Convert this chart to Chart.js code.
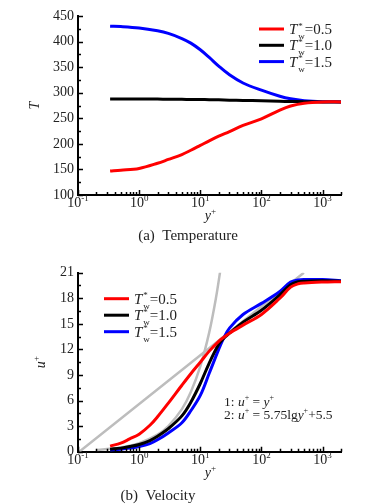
<!DOCTYPE html>
<html>
<head>
<meta charset="utf-8">
<script src="https://cdn.jsdelivr.net/npm/chart.js@4.4.0/dist/chart.umd.min.js"></script>
<style>
    html, body { margin: 0; padding: 0; background: #fff; }
    canvas { display: block; }
</style>
</head>
<body>
<canvas id="temp-chart" width="370" height="250"></canvas>
<canvas id="vel-chart" width="370" height="254"></canvas>
<script>
const SERIF = '"Liberation Serif", "Times New Roman", serif';

// (a) temperature profiles, T vs y+
const yPlusT   = [0.335, 0.5, 1, 2, 3, 5, 7, 10, 14, 20, 30, 50, 100, 200, 300, 500, 1000, 2000];
const tempLow  = [147, 148.5, 152, 162, 169.5, 179, 187.5, 197, 206, 215, 224, 236, 249, 266, 274, 279.5, 282, 282];
const tempMid  = [287.5, 287.5, 287.5, 287.5, 287.3, 287, 286.8, 286.7, 286.4, 286, 285.5, 285, 284.3, 283.3, 282.8, 282.4, 282, 282];
const tempHigh = [430, 429.3, 426.5, 421, 416, 406, 397, 384, 369, 352, 335, 319, 305, 293, 288, 284.5, 282.5, 282];

// (b) velocity profiles, u+ vs y+
const yPlusU  = [0.335, 0.5, 0.7, 1, 1.5, 2, 3, 5, 7, 10, 14, 20, 24, 30, 50, 100, 200, 300, 400, 500, 1000, 2000];
const velLow  = [0.66, 1.0, 1.5, 2.05, 3.1, 4.1, 5.7, 7.8, 9.15, 10.5, 11.8, 12.95, 13.4, 13.9, 14.85, 16.1, 18.0, 19.3, 19.7, 19.8, 19.9, 19.95];
const velMid  = [0.3, 0.42, 0.6, 0.85, 1.3, 1.8, 2.7, 4.2, 5.8, 8.0, 10.4, 12.6, 13.3, 13.9, 15.2, 16.6, 18.4, 19.6, 19.95, 20.0, 20.05, 20.0];
const velHigh = [0.2, 0.3, 0.42, 0.6, 0.95, 1.4, 2.2, 3.4, 4.8, 6.6, 9.2, 12.0, 13.3, 14.5, 16.1, 17.4, 18.8, 19.9, 20.15, 20.2, 20.2, 20.05];

// reference laws (grey): 1: u+ = y+, 2: log law
const viscYPlus = [0.2, 0.5, 1, 2, 3, 5, 7, 10, 14, 18, 21.5];
const viscU     = [0.2, 0.5, 1, 2, 3, 5, 7, 10, 14, 18, 21.5];
const logYPlus  = [0.105, 494];
const logU      = [0, 21];

const wallRatios = ['0.5', '1.0', '1.5'];
const lineColors = ['#ff0000', '#000000', '#0000ff'];
const greyColor = '#bdbdbd';

const xTickValues = [0.1, 1, 10, 100, 1000];
const xTickExps = ['-1', '0', '1', '2', '3'];
const tTicks = [100, 150, 200, 250, 300, 350, 400, 450];
const uTicks = [0, 3, 6, 9, 12, 15, 18, 21];

function toXY(xs, ys) {
    return xs.map((x, i) => ({ x: x, y: ys[i] }));
}

// rich text: parts are [text, kind]
function partFont(kind, size) {
    const small = Math.round(size * 0.62);
    if (kind === 'i') return `italic ${size}px ${SERIF}`;
    if (kind === 'sup' || kind === 'sub' || kind === 'stack') return `${small}px ${SERIF}`;
    return `${size}px ${SERIF}`;
}

function partWidth(ctx, p, size) {
    ctx.font = partFont(p[1], size);
    if (p[1] === 'stack') return Math.max(ctx.measureText(p[0][0]).width, ctx.measureText(p[0][1]).width) + 1;
    return ctx.measureText(p[0]).width;
}

function drawRich(ctx, x, y, parts, size, align) {
    ctx.save();
    ctx.textAlign = 'left';
    ctx.textBaseline = 'alphabetic';
    let total = 0;
    parts.forEach(p => { total += partWidth(ctx, p, size); });
    let cx = align === 'center' ? x - total / 2 : x;
    parts.forEach(p => {
        const w = partWidth(ctx, p, size);
        ctx.font = partFont(p[1], size);
        if (p[1] === 'sup') {
            ctx.fillText(p[0], cx, y - size * 0.42);
        } else if (p[1] === 'sub') {
            ctx.fillText(p[0], cx, y + size * 0.3);
        } else if (p[1] === 'stack') {
            ctx.fillText(p[0][0], cx + 1, y + size * 0.34);
            ctx.fillText(p[0][1], cx + 1, y - size * 0.36);
        } else {
            ctx.fillText(p[0], cx, y);
        }
        cx += w;
    });
    ctx.restore();
}

function legendParts(ratio) {
    return [['T', 'i'], [['w', '*'], 'stack'], ['=' + ratio, 'r']];
}

// inward tick marks, x labels, titles, legend, caption
function makeDecor(cfg) {
    return {
        id: 'decor',
        afterDraw(chart) {
            const ctx = chart.ctx;
            const xs = chart.scales.x;
            const ys = chart.scales.y;
            const area = chart.chartArea;
            ctx.save();
            ctx.strokeStyle = '#000';
            ctx.lineWidth = 1.5;
            ctx.beginPath();
            for (let e = -1; e <= 3; e++) {
                for (let m = 1; m <= 9; m++) {
                    const v = m * Math.pow(10, e);
                    if (v > xs.max) continue;
                    const px = Math.round(xs.getPixelForValue(v)) + 0.5;
                    const len = m === 1 ? 5 : 3;
                    ctx.moveTo(px, area.bottom);
                    ctx.lineTo(px, area.bottom - len);
                }
            }
            for (let v = cfg.yMin; v <= cfg.yMax + 1e-9; v += cfg.yMinor) {
                const py = Math.round(ys.getPixelForValue(v)) + 0.5;
                const major = Math.abs((v - cfg.yMin) / cfg.yMajor - Math.round((v - cfg.yMin) / cfg.yMajor)) < 1e-6;
                ctx.moveTo(area.left, py);
                ctx.lineTo(area.left + (major ? 5 : 3), py);
            }
            ctx.stroke();

            ctx.fillStyle = '#222';
            xTickValues.forEach((v, i) => {
                const px = xs.getPixelForValue(v);
                drawRich(ctx, px, area.bottom + 12, [['10', 'r'], [xTickExps[i], 'sup']], 14, 'center');
            });

            // axis titles
            drawRich(ctx, (area.left + area.right) / 2 + 1, area.bottom + 25, [['y', 'i'], ['+', 'sup']], 14, 'center');
            ctx.save();
            ctx.translate(cfg.yTitleX, (area.top + area.bottom) / 2);
            ctx.rotate(-Math.PI / 2);
            drawRich(ctx, 0, 0, cfg.yTitle, 14, 'center');
            ctx.restore();

            // legend from datasets
            ctx.lineWidth = 3;
            for (let i = 0; i < 3; i++) {
                const ds = chart.data.datasets[i];
                const ly = cfg.legendY + i * cfg.legendGap;
                ctx.strokeStyle = ds.borderColor;
                ctx.beginPath();
                ctx.moveTo(cfg.legendX, ly);
                ctx.lineTo(cfg.legendX + 25, ly);
                ctx.stroke();
                ctx.fillStyle = '#222';
                drawRich(ctx, cfg.legendX + 30, ly + 5, legendParts(wallRatios[i]), 15, 'left');
            }

            (cfg.notes || []).forEach(n => drawRich(ctx, n.x, n.y, n.parts, 13.5, 'left'));

            ctx.font = `15px ${SERIF}`;
            ctx.textAlign = 'center';
            ctx.fillStyle = '#222';
            ctx.fillText(cfg.caption, cfg.captionX, cfg.captionY);
            ctx.restore();
        }
    };
}

function makeScales(yMin, yMax, yTicks, xHeight) {
    const border = { display: true, color: '#000', width: 2 };
    return {
        x: {
            type: 'logarithmic',
            min: 0.1,
            max: 2000,
            border: border,
            grid: { display: false, drawTicks: false },
            ticks: { display: false },
            afterBuildTicks: s => { s.ticks = xTickValues.map(v => ({ value: v })); },
            afterFit: s => { s.height = xHeight; }
        },
        y: {
            type: 'linear',
            min: yMin,
            max: yMax,
            border: border,
            grid: { display: false, drawTicks: false },
            ticks: { color: '#222', padding: 4, font: { family: SERIF, size: 14 } },
            afterBuildTicks: s => { s.ticks = yTicks.map(v => ({ value: v })); },
            afterFit: s => { s.width = 78; }
        }
    };
}

function lineSet(label, data, color, width) {
    return {
        label: label,
        data: data,
        borderColor: color,
        borderWidth: width,
        pointRadius: 0,
        fill: false,
        tension: 0.35
    };
}

const baseOptions = {
    responsive: false,
    animation: false,
    plugins: { legend: { display: false }, tooltip: { enabled: false } }
};

new Chart(document.getElementById('temp-chart'), {
    type: 'line',
    data: {
        datasets: [
            lineSet('0.5', toXY(yPlusT, tempLow), lineColors[0], 3),
            lineSet('1.0', toXY(yPlusT, tempMid), lineColors[1], 3),
            lineSet('1.5', toXY(yPlusT, tempHigh), lineColors[2], 3)
        ]
    },
    options: Object.assign({}, baseOptions, {
        layout: { padding: { top: 16, right: 29, left: 0, bottom: 0 } },
        scales: makeScales(100, 450, tTicks, 55)
    }),
    plugins: [makeDecor({
        yMin: 100, yMax: 450, yMajor: 50, yMinor: 25,
        yTitle: [['T', 'i']], yTitleX: 39,
        legendX: 259, legendY: 29, legendGap: 16.3,
        caption: '(a)  Temperature', captionX: 188, captionY: 240
    })]
});

new Chart(document.getElementById('vel-chart'), {
    type: 'line',
    data: {
        datasets: [
            lineSet('0.5', toXY(yPlusU, velLow), lineColors[0], 3),
            lineSet('1.0', toXY(yPlusU, velMid), lineColors[1], 3),
            lineSet('1.5', toXY(yPlusU, velHigh), lineColors[2], 3),
            lineSet('u+=y+', toXY(viscYPlus, viscU), greyColor, 2.5),
            lineSet('log law', toXY(logYPlus, logU), greyColor, 2.5)
        ]
    },
    options: Object.assign({}, baseOptions, {
        layout: { padding: { top: 22.7, right: 29, left: 0, bottom: 0 } },
        scales: makeScales(0, 21, uTicks, 52.3)
    }),
    plugins: [makeDecor({
        yMin: 0, yMax: 21, yMajor: 3, yMinor: 1.5,
        yTitle: [['u', 'i'], ['+', 'sup']], yTitleX: 45,
        legendX: 104, legendY: 48.7, legendGap: 16.5,
        notes: [
            { x: 224, y: 156, parts: [['1: ', 'r'], ['u', 'i'], ['+', 'sup'], [' = ', 'r'], ['y', 'i'], ['+', 'sup']] },
            { x: 224, y: 169, parts: [['2: ', 'r'], ['u', 'i'], ['+', 'sup'], [' = 5.75lg', 'r'], ['y', 'i'], ['+', 'sup'], ['+5.5', 'r']] }
        ],
        caption: '(b)  Velocity', captionX: 158, captionY: 250
    })]
});
</script>
</body>
</html>
